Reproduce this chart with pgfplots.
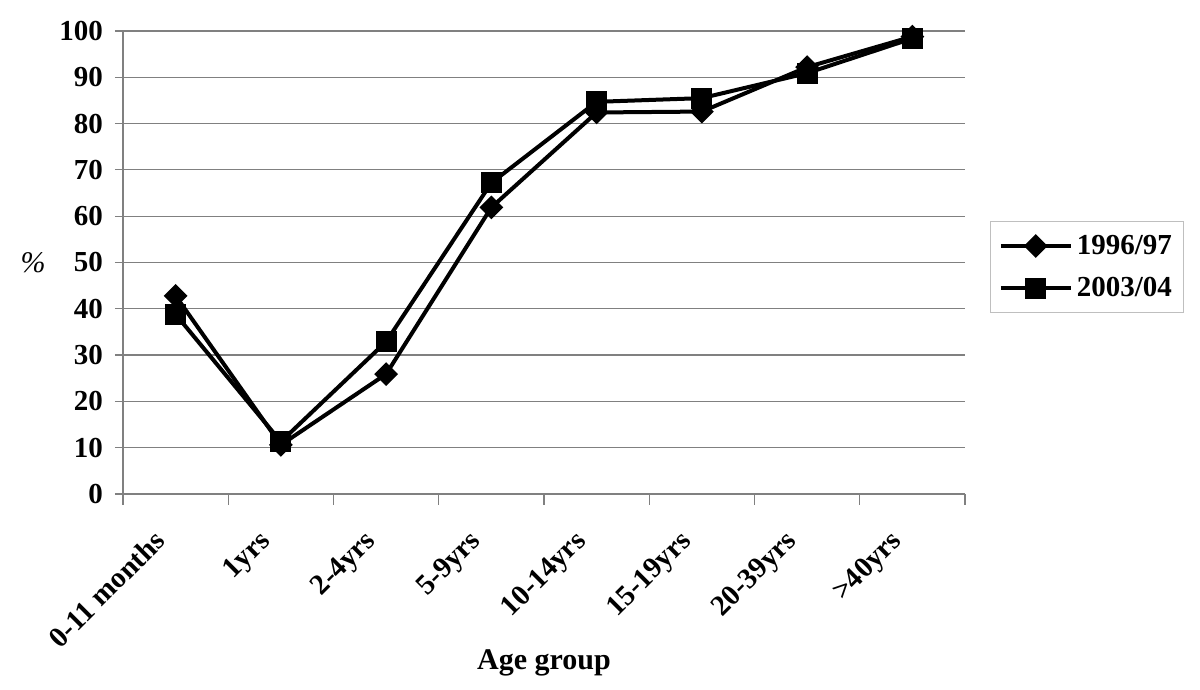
\documentclass[border=0pt]{standalone}
\usepackage{fontspec}
\setmainfont{Liberation Serif}
\usepackage{pgfplots}
\pgfplotsset{compat=1.18}
\begin{document}
\begin{tikzpicture}
\useasboundingbox (0,0) rectangle (600pt,345pt);
\begin{axis}[
  at={(61.5pt,98pt)}, anchor=south west,
  scale only axis, width=421pt, height=231.5pt,
  xmin=-0.5, xmax=7.5, ymin=0, ymax=100,
  axis lines*=left,
  axis line style={black!50, line width=0.6pt},
  every tick/.style={black!50, line width=0.6pt},
  tick align=outside,
  xtick={0,...,7},
  xticklabels={0-11 months,1yrs,2-4yrs,5-9yrs,10-14yrs,15-19yrs,20-39yrs,>40yrs},
  major x tick style={draw=none},
  minor xtick={-0.5,0.5,...,7.5},
  minor tick length=5.5pt,
  major tick length=4pt,
  ytick={0,10,...,100},
  ymajorgrids,
  grid style={black!50, line width=0.6pt},
  /pgf/number format/assume math mode=true,
  ticklabel style={font=\fontsize{14.5}{17}\selectfont\bfseries},
  yticklabel style={xshift=-2.5pt},
  xticklabel style={rotate=45, anchor=north east, inner sep=1pt, xshift=-16.4pt, yshift=0pt},
  xlabel={Age group},
  xlabel style={font=\fontsize{15}{18}\selectfont\bfseries, yshift=5pt},
  ylabel={\%},
  ylabel style={font=\fontsize{15}{18}\selectfont\itshape, rotate=-90, xshift=0pt},
  legend style={at={(1.03,0.49)}, anchor=west, draw=black!25, line width=0.5pt,
    font=\fontsize{14.5}{17}\selectfont\bfseries, row sep=6pt, inner xsep=4pt, inner ysep=4.5pt},
  legend cell align=left,
  legend image code/.code={\draw[#1, mark repeat=2, mark phase=2] plot coordinates {(0pt,0pt) (17.5pt,0pt) (35pt,0pt)};},
]
\addplot[black, line width=2pt, mark=square*, mark size=3.2pt, mark options={rotate=45, solid}]
  coordinates {(0,42.8) (1,10.6) (2,25.9) (3,61.9) (4,82.4) (5,82.6) (6,92.2) (7,98.8)};
\addlegendentry{1996/97}
\addplot[black, line width=2pt, mark=square*, mark size=4.2pt, mark options={solid}]
  coordinates {(0,38.8) (1,11.3) (2,32.9) (3,67.2) (4,84.7) (5,85.5) (6,90.9) (7,98.4)};
\addlegendentry{2003/04}
\end{axis}
\end{tikzpicture}
\end{document}
